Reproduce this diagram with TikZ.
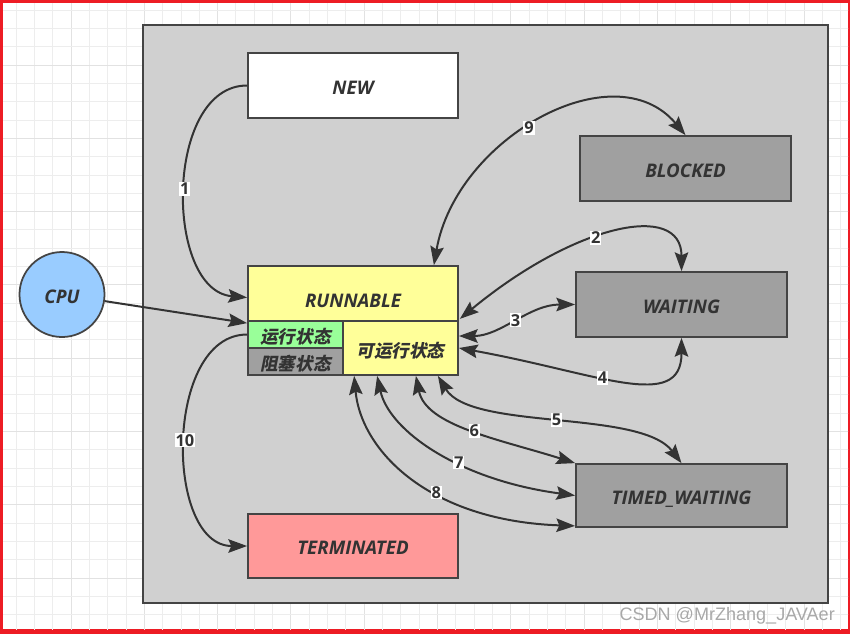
\documentclass[tikz,border=0pt]{standalone}
\usepackage{fontspec}
\setsansfont{Open Sans}
\newfontfamily\cjk[FakeSlant=0.2]{Noto Sans CJK SC}
\newfontfamily\wmfont{Liberation Sans}
\usetikzlibrary{arrows.meta,calc}
\definecolor{bord}{HTML}{444444}
\definecolor{txt}{HTML}{333333}
\definecolor{linec}{HTML}{333333}
\definecolor{panel}{HTML}{D0D0D0}
\definecolor{frame}{RGB}{237,28,36}
\definecolor{gridc}{HTML}{EDEDED}
\definecolor{gridm}{HTML}{E2E2E2}
\definecolor{yel}{HTML}{FFFF99}
\definecolor{grn}{HTML}{99FF99}
\definecolor{gry}{HTML}{A0A0A0}
\definecolor{pnk}{HTML}{FF9999}
\definecolor{blu}{HTML}{99CCFF}
\definecolor{wmc}{HTML}{A8A8A8}
\tikzset{
  box/.style={draw=bord, line width=1.5pt, rectangle, inner sep=0pt, text=txt,
    text height=14.8pt, text depth=0pt,
    font=\sffamily\bfseries\itshape\fontsize{16}{19}\selectfont},
  cjkbox/.style={box, text height=15.6pt, text depth=0pt,
    font=\cjk\bfseries\fontsize{15}{17}\selectfont},
  conn/.style={draw=linec, line width=1.7pt},
  num/.style={fill=white, inner sep=0.8pt, text=txt,
    font=\sffamily\bfseries\fontsize{14}{16}\selectfont},
  >={Stealth[length=16pt,width=11.5pt,inset=2.5pt]}
}
\begin{document}
\begin{tikzpicture}[x=0.03cm,y=-0.03cm]
\useasboundingbox (0,0) rectangle (850,634);
% frame and grid
\fill[frame] (0,0) rectangle (850,634);
\fill[white] (3,3) rectangle (848,629);
\begin{scope}
\clip (3,3) rectangle (848,629);
\foreach \i in {0,...,46} {
  \pgfmathsetmacro{\gx}{16+18.33*\i}
  \pgfmathtruncatemacro{\m}{mod(\i,4)}
  \ifnum\m=3 \draw[gridm, line width=0.8pt] (\gx,0) -- (\gx,634);
  \else \draw[gridc, line width=0.8pt] (\gx,0) -- (\gx,634); \fi
}
\foreach \j in {0,...,35} {
  \pgfmathsetmacro{\gy}{10+18.33*\j}
  \pgfmathtruncatemacro{\m}{mod(\j,4)}
  \ifnum\m=3 \draw[gridm, line width=0.8pt] (0,\gy) -- (850,\gy);
  \else \draw[gridc, line width=0.8pt] (0,\gy) -- (850,\gy); \fi
}
\end{scope}
% panel
\node[draw=bord, fill=panel, line width=1.5pt, minimum width=20.55cm, minimum height=17.34cm, inner sep=0pt] (panel) at (485.5,314) {};

% nodes
\node[box, fill=white, minimum width=6.3cm, minimum height=1.95cm] (new) at (353,85.5) {NEW};
\node[box, fill=gry, minimum width=6.33cm, minimum height=1.95cm] (blocked) at (685.5,168.5) {BLOCKED};
\node[box, fill=yel, minimum width=6.3cm, minimum height=1.65cm,
  label={[font=\sffamily\bfseries\itshape\fontsize{16}{19}\selectfont, text=txt, yshift=-6.5pt]center:RUNNABLE}] (run) at (353,293.5) {};
\node[cjkbox, fill=grn, minimum width=2.85cm, minimum height=0.81cm] (green) at (295.5,334.5) {运行状态};
\node[cjkbox, fill=gry, minimum width=2.85cm, minimum height=0.81cm] (blk) at (295.5,361.5) {阻塞状态};
\node[cjkbox, fill=yel, minimum width=3.45cm, minimum height=1.62cm] (rdy) at (400.5,348) {可运行状态};
\node[box, fill=gry, minimum width=6.33cm, minimum height=1.95cm] (waiting) at (681.5,304.5) {WAITING};
\node[box, fill=gry, minimum width=6.33cm, minimum height=1.89cm] (timed) at (681.5,495.5) {TIMED\_WAITING};
\node[box, fill=pnk, minimum width=6.3cm, minimum height=1.92cm] (term) at (353,546) {TERMINATED};
\node[box, circle, fill=blu, minimum size=2.55cm] (cpu) at (62,294.5) {CPU};

% connectors
\draw[conn,->] (new.west) .. controls +(-83,0) and +(-83,-7) .. node[num,pos=.5] {1} ($(run.west)+(0,4)$);
\draw[conn,->] (cpu) -- ($(green.north west)+(0,3)$);
\draw[conn,->] (green.west) .. controls +(-83,0) and +(-83,0) .. node[num,pos=.5] {10} (term.west);
\draw[conn,<->] ($(run.north east)+(-25,0)$) .. controls +(22,-127) and +(-71.5,-85) .. node[num,pos=.46] {9} (blocked.north);
\draw[conn,<->] ($(run.south east)+(1,-3)$) .. controls +(115,-95) and +(0,-70) .. node[num,pos=.43] {2} (waiting.north);
\draw[conn,<->] ($(rdy.east)+(0,-12)$) .. controls +(42,0) and +(-46,0) .. node[num,pos=.5] {3} (waiting.west);
\draw[conn,<->] (rdy.east) .. controls +(139,25) and +(0,75) .. node[num,pos=.42] {4} (waiting.south);
\draw[conn,<->] ($(rdy.south east)+(-21,0)$) .. controls +(33,55) and +(-41.5,-54) .. node[num,pos=.5] {5} (timed.north);
\draw[conn,<->] ($(rdy.south east)+(-43,0)$) .. controls +(10,50) and +(-76,-24) .. node[num,pos=.52] {6} (timed.north west);
\draw[conn,<->] ($(rdy.south west)+(35,0)$) .. controls +(12,55) and +(-116,-15.5) .. node[num,pos=.6] {7} (timed.west);
\draw[conn,<->] ($(rdy.south west)+(12,0)$) .. controls +(7,75) and +(-146,-5) .. node[num,pos=.6] {8} ($(timed.south west)+(0,-2)$);

% watermark
\node[anchor=base east, inner sep=0pt, text=wmc, font=\wmfont\fontsize{15.4}{17}\selectfont] (wm) at (835,620.5) {CSDN @MrZhang\_JAVAer};
\end{tikzpicture}
\end{document}
